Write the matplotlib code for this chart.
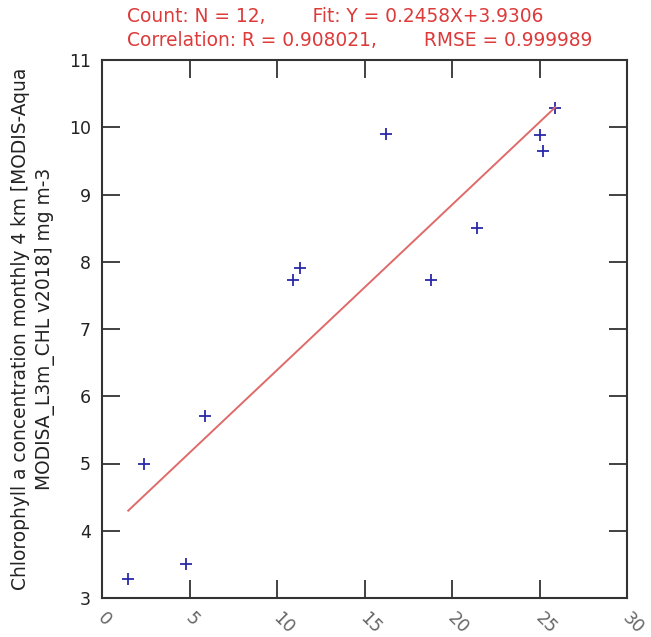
import matplotlib
matplotlib.use("Agg")
import matplotlib.pyplot as plt
from matplotlib.transforms import ScaledTranslation
import numpy as np

x_vals = [1.5, 2.4, 4.8, 5.9, 10.9, 11.3, 16.2, 18.8, 21.4, 25.0, 25.2, 25.9]
y_vals = [3.28, 4.99, 3.50, 5.70, 7.73, 7.91, 9.90, 7.73, 8.50, 9.88, 9.64, 10.29]
slope = 0.2458
intercept = 3.9306
title_line1 = "Count: N = 12,        Fit: Y = 0.2458X+3.9306"
title_line2 = "Correlation: R = 0.908021,        RMSE = 0.999989"
ylabel = "Chlorophyll a concentration monthly 4 km [MODIS-Aqua\nMODISA_L3m_CHL v2018] mg m-3"
xticks = [0, 5, 10, 15, 20, 25, 30]
yticks = [3, 4, 5, 6, 7, 8, 9, 10, 11]

fig = plt.figure(figsize=(6.51, 6.37), dpi=100)
ax = fig.add_axes([102/651, 1-598/637, 525/651, 538/637])

ax.plot(x_vals, y_vals, linestyle="none", marker="+", color="#2a2aa8",
        markersize=8, markeredgewidth=1.3)
xf = np.array([min(x_vals), max(x_vals)])
ax.plot(xf, slope*xf + intercept, color="#e06a6a", linewidth=1.4)

ax.set_xlim(0, 30)
ax.set_ylim(3, 11)
ax.set_xticks(xticks)
ax.set_yticks(yticks)
ax.set_xticklabels([str(t) for t in xticks], rotation=-45, ha="left", va="top",
                   rotation_mode="anchor", color="#666666", fontsize=12.5)
ax.set_yticklabels([str(t) for t in yticks], color="#222222", fontsize=12.5)
ax.tick_params(direction="in", length=13, width=1.3, color="#333333",
               top=True, right=True, pad=8)
for lab in ax.get_xticklabels():
    lab.set_transform(lab.get_transform() + ScaledTranslation(0.05, 0, fig.dpi_scale_trans))
for s in ax.spines.values():
    s.set_color("#333333")
    s.set_linewidth(1.5)

fig.text(33/651, 1-329/637, ylabel, rotation=90, ha="center", va="center",
         multialignment="center", fontsize=13.4, color="#222222", linespacing=1.3)

fig.text(127/651, 1-17/637, title_line1, color="#dd3a3a", fontsize=13.4,
         ha="left", va="center")
fig.text(127/651, 1-40/637, title_line2, color="#dd3a3a", fontsize=13.4,
         ha="left", va="center")

fig.savefig("out.png", dpi=100)
